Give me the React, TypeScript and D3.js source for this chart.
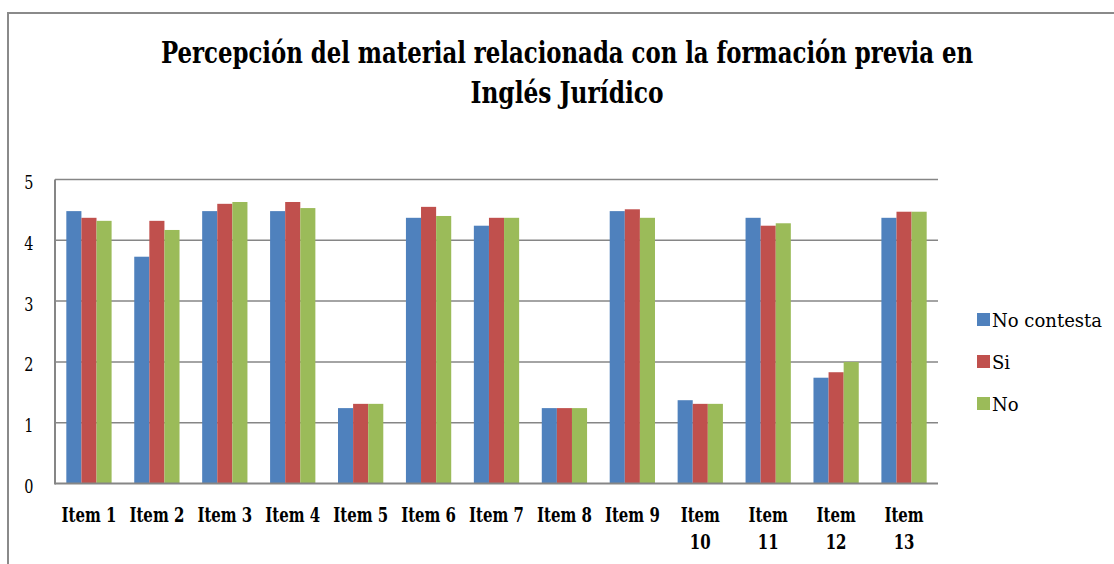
import React from "react";
import * as d3 from "d3";

const categories = [
  "Item 1", "Item 2", "Item 3", "Item 4", "Item 5", "Item 6", "Item 7",
  "Item 8", "Item 9", "Item 10", "Item 11", "Item 12", "Item 13",
];
const seriesNames = ["No contesta", "Si", "No"];
const noContesta = [4.48, 3.73, 4.48, 4.48, 1.24, 4.37, 4.24, 1.24, 4.48, 1.37, 4.37, 1.74, 4.37];
const si = [4.37, 4.32, 4.6, 4.63, 1.31, 4.55, 4.37, 1.24, 4.51, 1.31, 4.24, 1.83, 4.47];
const no = [4.32, 4.17, 4.63, 4.53, 1.31, 4.4, 4.37, 1.24, 4.37, 1.31, 4.28, 2.0, 4.47];
const yTicks = [0, 1, 2, 3, 4, 5];
const titleLines = [
  "Percepción del material relacionada con la formación previa en",
  "Inglés Jurídico",
];

const seriesValues = [noContesta, si, no];
const colors = ["#4F81BD", "#C0504D", "#9BBB59"];

const W = 1114;
const H = 564;
const plot = { left: 55, right: 938, top: 179.5, bottom: 483.5 };
const serif = "DejaVu Serif, serif";

// Text narrowed horizontally so the wide serif face reads like a Times-style face.
function NarrowText({
  x,
  y,
  sx,
  children,
  anchor = "middle",
  ...rest
}: {
  x: number;
  y: number;
  sx: number;
  children: React.ReactNode;
  anchor?: string;
  [k: string]: any;
}) {
  return (
    <g transform={`translate(${x},${y}) scale(${sx},1)`}>
      <text x={0} y={0} textAnchor={anchor} fontFamily={serif} fill="#000" {...rest}>
        {children}
      </text>
    </g>
  );
}

export default function App() {
  const x0 = d3.scaleBand<string>().domain(categories).range([plot.left, plot.right]);
  // gap width of 150%: outer padding of 0.75 bar on each side of the group
  const x1 = d3
    .scaleBand<string>()
    .domain(seriesNames)
    .range([0, x0.bandwidth()])
    .paddingInner(0)
    .paddingOuter(0.75);
  const y = d3.scaleLinear().domain([0, 5]).range([plot.bottom, plot.top]);

  const splitLabel = (s: string) => (s.length > 6 ? s.split(" ") : [s]);
  const titleSx = 0.7;

  return (
    <svg
      width={W}
      height={H}
      style={{ position: "absolute", left: 0, top: 0, background: "#fff" }}
    >
      <rect x={0} y={0} width={W} height={H} fill="#fff" />
      <rect x={8} y={13} width={W + 20} height={H + 20} fill="#fff" stroke="#8a8a8a" strokeWidth={2} />

      {titleLines.map((t, i) => (
        <NarrowText
          key={i}
          x={567}
          y={63 + i * 40}
          sx={titleSx}
          fontWeight="bold"
          fontSize={29}
          textLength={(i === 0 ? 812 : 193) / titleSx}
          lengthAdjust="spacingAndGlyphs"
        >
          {t}
        </NarrowText>
      ))}

      {/* horizontal gridlines */}
      {yTicks.filter((t) => t > 0).map((t) => (
        <line
          key={t}
          x1={plot.left}
          x2={plot.right}
          y1={y(t)}
          y2={y(t)}
          stroke="#868686"
          strokeWidth={1.5}
        />
      ))}

      {/* bars */}
      {categories.map((c, ci) => (
        <g key={c} transform={`translate(${x0(c)},0)`}>
          {seriesNames.map((s, si2) => {
            const v = seriesValues[si2][ci];
            return (
              <rect
                key={s}
                x={x1(s)}
                y={y(v)}
                width={x1.bandwidth()}
                height={y(0) - y(v)}
                fill={colors[si2]}
              />
            );
          })}
        </g>
      ))}

      {/* axes */}
      <line x1={plot.left} x2={plot.left} y1={plot.top} y2={plot.bottom + 1} stroke="#868686" strokeWidth={2} />
      <line x1={plot.left} x2={plot.right} y1={plot.bottom} y2={plot.bottom} stroke="#868686" strokeWidth={2} />

      {yTicks.map((t) => (
        <NarrowText key={t} x={33.5} y={y(t) + 9.5} sx={0.78} anchor="end" fontSize={18.5}>
          {t}
        </NarrowText>
      ))}

      {categories.map((c) => {
        const lines = splitLabel(c);
        const cx = (x0(c) as number) + x0.bandwidth() / 2;
        return (
          <g key={c}>
            {lines.map((l, i) => (
              <NarrowText
                key={i}
                x={cx}
                y={521.5 + i * 27}
                sx={0.73}
                fontWeight="bold"
                fontSize={20.5}
              >
                {l}
              </NarrowText>
            ))}
          </g>
        );
      })}

      {/* legend */}
      {seriesNames.map((s, i) => (
        <g key={s} transform={`translate(977,${313 + i * 42})`}>
          <rect x={0} y={0} width={13} height={13} fill={colors[i]} />
          <NarrowText x={15} y={14} sx={0.95} anchor="start" fontSize={19}>
            {s}
          </NarrowText>
        </g>
      ))}
    </svg>
  );
}
